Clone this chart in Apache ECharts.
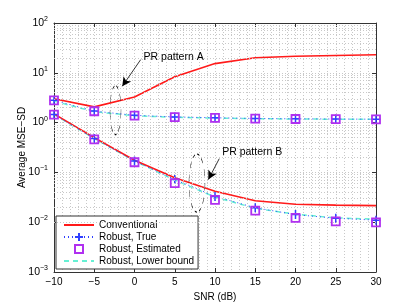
<!DOCTYPE html>
<html><head><meta charset="utf-8">
<script src="https://cdn.jsdelivr.net/npm/echarts@6/dist/echarts.min.js"></script>
<style>html,body{margin:0;padding:0;background:#fff}#c{width:415px;height:307px}</style>
</head><body><div id="c"></div>
<script>
const snr = [-10, -5, 0, 5, 10, 15, 20, 25, 30];
// PR pattern A
const convA     = [3.0, 2.07, 3.28, 8.3, 15.3, 20.0, 21.5, 22.3, 23.0];
const trueA     = [2.8, 1.70, 1.40, 1.30, 1.25, 1.21, 1.19, 1.18, 1.17];
const estA      = [2.8, 1.69, 1.38, 1.29, 1.24, 1.20, 1.18, 1.17, 1.16];
const lowerA    = [2.7, 1.66, 1.37, 1.28, 1.23, 1.20, 1.18, 1.17, 1.16];
// PR pattern B
const convB     = [1.5, 0.50, 0.175, 0.078, 0.042, 0.027, 0.023, 0.022, 0.0215];
const trueB     = [1.45, 0.48, 0.17, 0.072, 0.033, 0.0195, 0.0142, 0.012, 0.011];
const estB      = [1.45, 0.46, 0.16, 0.061, 0.028, 0.017, 0.0122, 0.0104, 0.0099];
const lowerB    = [1.45, 0.48, 0.17, 0.070, 0.032, 0.019, 0.0145, 0.0122, 0.0115];
const legendNames = ['Conventional', 'Robust, True', 'Robust, Estimated', 'Robust, Lower bound'];

const FONT = 'Liberation Sans';
const RED = '#ff1a1a', BLUE = '#3040ff', MAG = '#b030f0', CYAN = '#66f0d4';
const GRID = '#c8c8c8';
const zip = a => snr.map((x, i) => [x, a[i]]);

// minor log grid positions
const minorY = [];
for (let k = -3; k <= 1; k++) for (let m = 2; m <= 9; m++) minorY.push({ yAxis: m * Math.pow(10, k) });

const plusPath = 'path://M0,5L10,5M5,0L5,10';
const gridLine = { show: true, lineStyle: { color: GRID, type: [1, 2], width: 1 } };
const frame = { show: true, onZero: false, lineStyle: { color: '#333', width: 1 } };
const ticks = { inside: true, length: 4, lineStyle: { color: '#333' } };

const option = {
  animation: false,
  textStyle: { fontFamily: FONT },
  grid: { left: 54, right: 39, top: 23, bottom: 35, show: false },
  xAxis: [{
    type: 'value', min: -10, max: 30, interval: 5,
    name: 'SNR (dB)', nameLocation: 'middle', nameGap: 18,
    nameTextStyle: { fontSize: 10, color: '#000', fontFamily: FONT },
    axisLine: frame, axisTick: ticks,
    axisLabel: { fontSize: 10, color: '#000', margin: 5, fontFamily: FONT,
      formatter: v => v < 0 ? '\u2212' + Math.abs(v) : '' + v },
    splitLine: gridLine,
    minorTick: { show: false, splitNumber: 5 },
    minorSplitLine: gridLine
  }, {
    type: 'value', min: -10, max: 30, interval: 5, position: 'top',
    axisLine: frame, axisTick: ticks,
    axisLabel: { show: false }, splitLine: { show: false }
  }],
  yAxis: [{
    type: 'log', logBase: 10, min: 0.001, max: 100,
    name: 'Average MSE\u2212SD', nameLocation: 'middle', nameGap: 27, nameMoveOverlap: false,
    nameTextStyle: { fontSize: 10, color: '#000', fontFamily: FONT },
    axisLine: frame, axisTick: ticks,
    axisLabel: {
      color: '#000', margin: 6, fontFamily: FONT,
      formatter: v => {
        const e = Math.round(Math.log10(v));
        return '{b|10}{s|' + (e < 0 ? '\u2212' + Math.abs(e) : e) + '}';
      },
      rich: {
        b: { fontSize: 10.5, fontFamily: FONT, color: '#000' },
        s: { fontSize: 7, fontFamily: FONT, color: '#000', padding: [0, 0, 8, 0] }
      }
    },
    splitLine: gridLine
  }, {
    type: 'log', logBase: 10, min: 0.001, max: 100, position: 'right',
    axisLine: frame, axisTick: ticks,
    axisLabel: { show: false }, splitLine: { show: false }
  }],
  legend: {
    orient: 'vertical', left: 56, top: 216, itemWidth: 30, itemHeight: 10, itemGap: 2,
    padding: [4, 4, 3, 7],
    backgroundColor: '#fff', borderColor: '#333', borderWidth: 1,
    textStyle: { fontSize: 10, lineHeight: 10, color: '#000', fontFamily: FONT },
    data: [
      { name: legendNames[0], itemStyle: { opacity: 0 } },
      { name: legendNames[1] },
      { name: legendNames[2] },
      { name: legendNames[3], itemStyle: { opacity: 0 } }
    ]
  },
  series: [
    { name: 'grid', type: 'line', data: [], silent: true, z: 0,
      markLine: { silent: true, symbol: ['none', 'none'], label: { show: false },
        lineStyle: { color: GRID, type: [1, 2], width: 1 }, data: minorY } },
    { name: legendNames[3], type: 'line', data: zip(lowerA), symbol: 'none', z: 2,
      lineStyle: { color: CYAN, width: 1.5, type: [5, 4] }, itemStyle: { color: CYAN } },
    { name: legendNames[3], type: 'line', data: zip(lowerB), symbol: 'none', z: 2,
      lineStyle: { color: CYAN, width: 1.5, type: [5, 4] }, itemStyle: { color: CYAN } },
    { name: legendNames[0], type: 'line', data: zip(convA), symbol: 'none', z: 3,
      lineStyle: { color: RED, width: 1.6 }, itemStyle: { color: RED } },
    { name: legendNames[0], type: 'line', data: zip(convB), symbol: 'none', z: 3,
      lineStyle: { color: RED, width: 1.6 }, itemStyle: { color: RED } },
    { name: legendNames[1], type: 'line', data: zip(trueA), symbol: plusPath, symbolSize: 9, z: 4,
      showAllSymbol: true,
      lineStyle: { color: BLUE, width: 1, type: [1, 3] },
      itemStyle: { color: BLUE, borderColor: BLUE, borderWidth: 1.5 } },
    { name: legendNames[1], type: 'line', data: zip(trueB), symbol: plusPath, symbolSize: 9, z: 4,
      showAllSymbol: true,
      lineStyle: { color: BLUE, width: 1, type: [1, 3] },
      itemStyle: { color: BLUE, borderColor: BLUE, borderWidth: 1.5 } },
    { name: legendNames[2], type: 'line', data: zip(estA), symbol: 'rect', symbolSize: 8, z: 5,
      showAllSymbol: true, lineStyle: { width: 0, opacity: 0 },
      itemStyle: { color: 'rgba(0,0,0,0)', borderColor: MAG, borderWidth: 1.8 } },
    { name: legendNames[2], type: 'line', data: zip(estB), symbol: 'rect', symbolSize: 8, z: 5,
      showAllSymbol: true, lineStyle: { width: 0, opacity: 0 },
      itemStyle: { color: 'rgba(0,0,0,0)', borderColor: MAG, borderWidth: 1.8 } },
    { name: 'annot', type: 'line', data: [], silent: true, z: 6,
      markLine: { silent: true, symbol: ['none', 'arrow'], symbolSize: [7, 9], label: { show: false },
        lineStyle: { color: '#000', width: 0.8, type: 'solid' },
        data: [
          [{ coord: [0.77, 18.4] }, { coord: [-1.52, 5.36] }],
          [{ coord: [10.53, 0.189] }, { coord: [9.17, 0.0717] }]
        ] },
      markPoint: { silent: true,
        data: [
          { coord: [-2.36, 1.78], symbol: 'circle', symbolSize: [11, 49],
            itemStyle: { color: 'rgba(0,0,0,0)', borderColor: '#000', borderWidth: 0.7, borderType: [4, 4] },
            label: { show: false } },
          { coord: [7.76, 0.061], symbol: 'circle', symbolSize: [16, 58],
            itemStyle: { color: 'rgba(0,0,0,0)', borderColor: '#000', borderWidth: 0.7, borderType: [4, 4] },
            label: { show: false } },
          { coord: [1.06, 21.1], symbol: 'circle', symbolSize: 1, itemStyle: { color: 'rgba(0,0,0,0)' },
            label: { show: true, position: 'right', distance: 0, formatter: 'PR pattern A',
              fontSize: 10.5, color: '#000', fontFamily: FONT } },
          { coord: [10.83, 0.25], symbol: 'circle', symbolSize: 1, itemStyle: { color: 'rgba(0,0,0,0)' },
            label: { show: true, position: 'right', distance: 0, formatter: 'PR pattern B',
              fontSize: 10.5, color: '#000', fontFamily: FONT } }
        ] } }
  ]
};
const chart = echarts.init(document.getElementById('c'), null, { renderer: 'canvas' });
chart.setOption(option);
</script></body></html>
